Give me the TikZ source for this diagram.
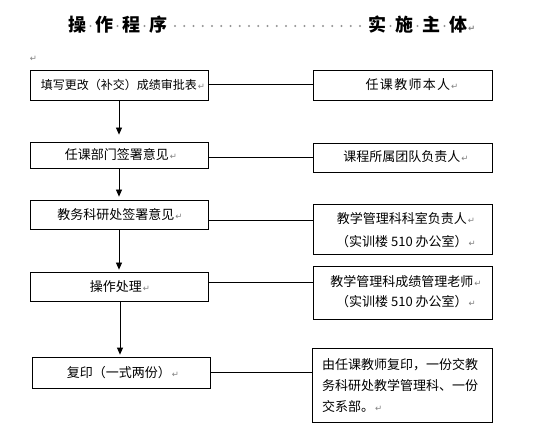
\documentclass[tikz,border=0pt]{standalone}
\usepackage{fontspec}
\setmainfont{Noto Sans CJK SC}
\newfontfamily\symfont{DejaVu Sans}
\usetikzlibrary{arrows.meta}
\newcommand{\rmk}{{\symfont\fontsize{8.5}{8.5}\selectfont\color{gray}\hspace{1pt}↵}}
\begin{document}
\begin{tikzpicture}[x=1pt,y=-1pt,
  box/.style={draw,line width=0.8pt,inner sep=0pt},
  txt/.style={inner sep=0pt,font=\fontsize{13}{13}\selectfont},
  ttl/.style={inner sep=0pt,anchor=west,font=\fontsize{18}{18}\selectfont\bfseries},
  arr/.style={-{Triangle[width=6pt,length=7pt]},line width=0.8pt},
  link/.style={line width=0.8pt},
  spc/.style={fill=gray!85,draw=none}]
\useasboundingbox[fill=white] (0,0) rectangle (554,446);
% title
\node[ttl] (t1) at (68,25) {操\hspace{9pt}作\hspace{9pt}程\hspace{9pt}序};
\node[ttl] (t2) at (368,25) {实\hspace{9pt}施\hspace{9pt}主\hspace{9pt}体\rmk};
\foreach \x in {90.5,117.5,144.5,390.5,417.5,444.5} \fill[spc] (\x,26) circle (1.1);
\foreach \i in {0,...,20} \fill[spc] (175+\i*9.25,26) circle (1.1);
\node[inner sep=0pt] (ret) at (33,59) {\rmk};
% left boxes
\node[box,minimum width=178pt,minimum height=30pt] (L1) at (119,85) {};
\node[box,minimum width=178pt,minimum height=26pt] (L2) at (119,155) {};
\node[box,minimum width=178pt,minimum height=29pt] (L3) at (119,214.5) {};
\node[box,minimum width=178pt,minimum height=29pt] (L4) at (119,286.5) {};
\node[box,minimum width=178pt,minimum height=31pt] (L5) at (121,372.5) {};
% right boxes
\node[box,minimum width=179pt,minimum height=30pt] (R1) at (402.5,85) {};
\node[box,minimum width=179pt,minimum height=29pt] (R2) at (402.5,157.5) {};
\node[box,minimum width=179pt,minimum height=50pt] (R3) at (402.5,229) {};
\node[box,minimum width=179pt,minimum height=53pt] (R4) at (402.5,292.5) {};
\node[box,minimum width=180pt,minimum height=74pt] (R5) at (402,385) {};
% texts
\node[txt,font=\fontsize{12}{12}\selectfont] (tL1) at (123,85) {填写更改（补交）成绩审批表\rmk};
\node[txt] (tL2) at (121,155) {任课部门签署意见\rmk};
\node[txt] (tL3) at (120,215) {教务科研处签署意见\rmk};
\node[txt] (tL4) at (120,287) {操作处理\rmk};
\node[txt] (tL5) at (123,373) {复印（一式两份）\rmk};
\node[txt] (tR1) at (412,85) {\addfontfeature{LetterSpace=10}任课教师本人\rmk};
\node[txt] (tR2) at (406,157) {课程所属团队负责人\rmk};
\node[txt,align=center,font=\fontsize{13}{23}\selectfont] (tR3) at (406,230) {教学管理科科室负责人\rmk\\（实训楼 510 办公室）\rmk};
\node[txt,align=center,font=\fontsize{13}{20}\selectfont] (tR4) at (406,292) {教学管理科成绩管理老师\rmk\\（实训楼 510 办公室）\rmk};
\node[txt,align=left,anchor=west,font=\fontsize{13}{21}\selectfont] (tR5) at (322,386) {由任课教师复印，一份交教\\务科研处教学管理科、一份\\交系部。\rmk};
% connectors
\draw[link] (L1.east |- 0,84) -- (R1.west |- 0,84);
\draw[link] (L2.east |- 0,157) -- (R2.west |- 0,157);
\draw[link] (L3.east |- 0,220) -- (R3.west |- 0,220);
\draw[link] (L4.east |- 0,282) -- (R4.west |- 0,282);
\draw[link] (L5.east |- 0,372) -- (R5.west |- 0,372);
% arrows
\draw[arr,shorten >=7pt] (L1.south) -- (L2.north);
\draw[arr,shorten >=3pt] (L2.south) -- (L3.north);
\draw[arr,shorten >=2pt] (L3.south) -- (L4.north);
\draw[arr,shorten >=2pt] ([xshift=1pt]L4.south) -- ([xshift=1pt]L4.south |- L5.north);
\end{tikzpicture}
\end{document}
